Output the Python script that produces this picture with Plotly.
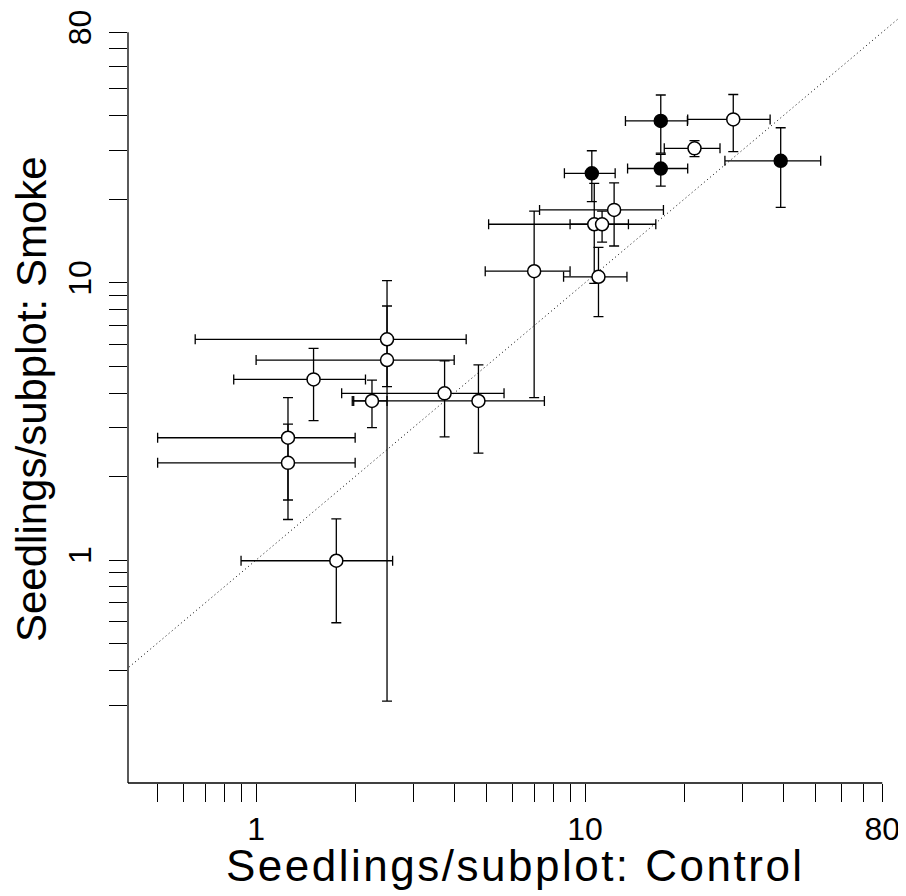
import numpy as np
import plotly.graph_objects as go

# ---------------- data ----------------
# open circles
open_x    = [28.2, 21.5, 12.25, 10.66, 11.26, 7.0, 10.98, 2.5, 2.5, 1.495, 3.74, 2.25, 4.74, 1.25, 1.25, 1.753]
open_y    = [38.8, 30.5, 18.3, 16.24, 16.24, 11.0, 10.5, 6.25, 5.26, 4.48, 3.99, 3.745, 3.745, 2.76, 2.24, 0.994]
open_x_lo = [20.5, 17.4, 7.27, 5.09, 9.0, 4.97, 8.6, 0.653, 1.0, 0.855, 1.82, 1.98, 1.96, 0.502, 0.502, 0.90]
open_x_hi = [36.5, 25.7, 17.3, 16.4, 13.54, 9.0, 13.4, 4.35, 4.0, 2.15, 5.67, 2.5, 7.52, 2.0, 2.0, 2.6]
open_y_lo = [29.7, 28.5, 13.56, 9.95, 14.0, 3.85, 7.54, 4.22, 0.31, 3.18, 2.78, 3.0, 2.43, 1.646, 1.40, 0.594]
open_y_hi = [47.7, 32.5, 22.9, 22.8, 18.1, 18.1, 13.4, 10.17, 8.24, 5.8, 5.22, 4.45, 5.05, 3.85, 3.09, 1.406]

# filled circles
fill_x    = [16.98, 16.98, 10.48, 39.3]
fill_y    = [38.3, 25.8, 24.8, 27.5]
fill_x_lo = [13.26, 13.46, 8.65, 26.6]
fill_x_hi = [20.46, 20.5, 12.34, 52.0]
fill_y_lo = [29.3, 22.3, 19.6, 18.7]
fill_y_hi = [47.5, 29.0, 29.9, 36.2]

# ticks
x_major = [1, 10, 80]
x_minor = [0.5, 0.6, 0.7, 0.8, 0.9, 2, 3, 4, 5, 6, 7, 8, 9, 20, 30, 40, 50, 60, 70]
y_major = [1, 10, 80]
y_minor = [0.3, 0.4, 0.5, 0.6, 0.7, 0.8, 0.9, 2, 3, 4, 5, 6, 7, 8, 9, 20, 30, 40, 50, 60, 70]

# one-to-one reference line
ref_line = [0.1, 200]

x_title = "Seedlings/subplot: Control"
y_title = "Seedlings/subplot: Smoke"

# ----------------------------------------------------------------
FONT = "Liberation Sans, Arial, Helvetica, sans-serif"
X_LIM = [0.408, 92.5]
Y_LIM = [0.157, 92.3]

fig = go.Figure()

fig.add_trace(go.Scatter(
    x=ref_line, y=ref_line, mode="lines",
    line=dict(color="black", width=1, dash="1px,3px"),
    hoverinfo="skip", showlegend=False))


def err(vals, lo, hi):
    return ([h - v for v, h in zip(vals, hi)], [v - l for v, l in zip(vals, lo)])


def add_bars(x, y, xlo, xhi, ylo, yhi):
    xp, xm = err(x, xlo, xhi)
    yp, ym = err(y, ylo, yhi)
    fig.add_trace(go.Scatter(
        x=x, y=y, mode="markers",
        marker=dict(size=1, color="rgba(0,0,0,0)"),
        error_x=dict(type="data", symmetric=False, array=xp, arrayminus=xm,
                     color="black", thickness=1.3, width=5),
        error_y=dict(type="data", symmetric=False, array=yp, arrayminus=ym,
                     color="black", thickness=1.3, width=5),
        hoverinfo="skip", showlegend=False))


add_bars(open_x, open_y, open_x_lo, open_x_hi, open_y_lo, open_y_hi)
add_bars(fill_x, fill_y, fill_x_lo, fill_x_hi, fill_y_lo, fill_y_hi)

fig.add_trace(go.Scatter(
    x=open_x, y=open_y, mode="markers",
    marker=dict(size=13, color="white", line=dict(color="black", width=1.5)),
    showlegend=False, cliponaxis=False))
fig.add_trace(go.Scatter(
    x=fill_x, y=fill_y, mode="markers",
    marker=dict(size=13, color="black", line=dict(color="black", width=1.5)),
    showlegend=False, cliponaxis=False))

x_vals = x_major + x_minor
x_text = [str(v) for v in x_major] + [""] * len(x_minor)
y_vals = y_major + y_minor
y_text = [str(v) for v in y_major] + [""] * len(y_minor)

axis_common = dict(
    type="log", showgrid=False, zeroline=False, showline=False, automargin=False,
    ticks="outside", ticklen=18, tickwidth=1.3, tickcolor="black",
    tickfont=dict(family=FONT, size=32, color="black"),
)

# the page body adds an 8px offset, so the figure is 8px smaller and margins shifted
fig.update_layout(
    width=898, height=888,
    margin=dict(l=120, r=3, t=7, b=113),
    paper_bgcolor="white", plot_bgcolor="white",
    showlegend=False,
    xaxis=dict(range=[np.log10(X_LIM[0]), np.log10(X_LIM[1])],
               tickmode="array", tickvals=x_vals, ticktext=x_text, **axis_common),
    yaxis=dict(range=[np.log10(Y_LIM[0]), np.log10(Y_LIM[1])],
               tickmode="array", tickvals=y_vals, ticktext=y_text,
               tickangle=-90, ticklabelstandoff=5, **axis_common),
    shapes=[
        dict(type="line", xref="x", yref="paper", x0=X_LIM[0], x1=x_major[-1], y0=0, y1=0,
             line=dict(color="black", width=1.3)),
        dict(type="line", xref="paper", yref="y", x0=0, x1=0, y0=Y_LIM[0], y1=y_major[-1],
             line=dict(color="black", width=1.3)),
    ],
    annotations=[
        dict(text='<span style="letter-spacing:2.5px">' + x_title + '</span>',
             xref="paper", yref="paper", x=0.5, y=0, xanchor="center",
             yanchor="middle", yshift=-82, showarrow=False, borderpad=0,
             font=dict(family=FONT, size=44, color="black")),
        dict(text=y_title, xref="paper", yref="paper", x=0, y=0.5, xanchor="center",
             yanchor="middle", xshift=-97, textangle=-90, showarrow=False, borderpad=0,
             font=dict(family=FONT, size=42, color="black")),
    ],
)

fig.write_html("out.html")
